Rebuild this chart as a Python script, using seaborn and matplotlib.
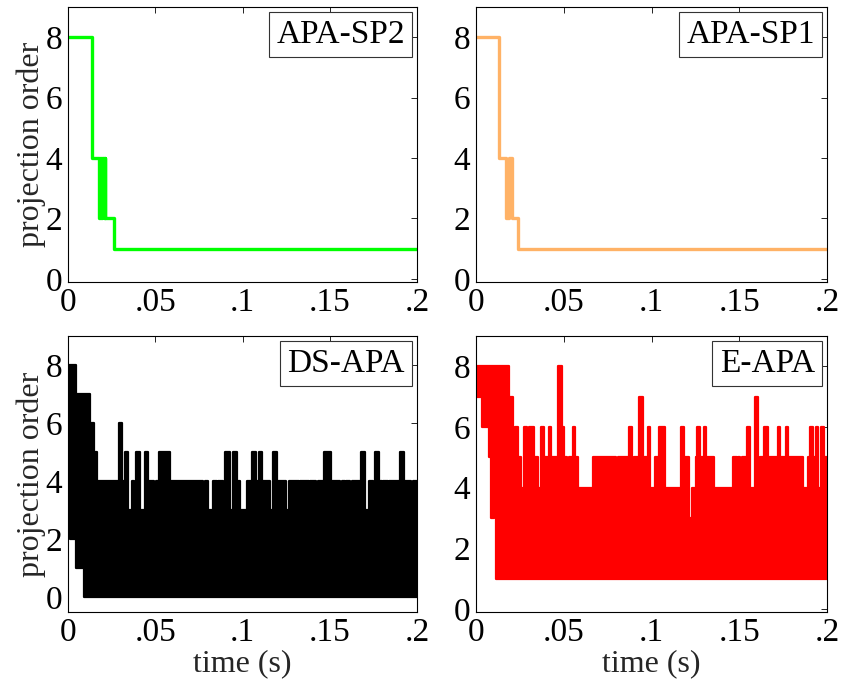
import numpy as np
import matplotlib
matplotlib.use("Agg")
import matplotlib.pyplot as plt
import seaborn as sns

# ---- data ----
# top panels: step series (time where value starts, value)
sp2_t = [0, 0.0136, 0.0176, 0.0182, 0.0190, 0.0197, 0.0204, 0.0210, 0.0213, 0.0265, 0.2]
sp2_v = [8, 4, 2, 4, 2, 4, 2, 4, 2, 1, 1]

sp1_t = [0, 0.0133, 0.0171, 0.0190, 0.0205, 0.0238, 0.2]
sp1_v = [8, 4, 2, 4, 2, 1, 1]

# bottom panels: the curves switch so fast that only their envelopes are visible
ds_up_t = [0, 0.0044, 0.0126, 0.0146, 0.0168, 0.0293, 0.0311, 0.0325, 0.0341, 0.0364,
           0.0379, 0.0389, 0.0412, 0.0440, 0.0460, 0.0494, 0.0502, 0.0523, 0.0584, 0.0775,
           0.0785, 0.0800, 0.0833, 0.0852, 0.0862, 0.0890, 0.0900, 0.0928, 0.0948, 0.0967,
           0.0986, 0.1028, 0.1057, 0.1080, 0.1095, 0.1114, 0.1120, 0.1156, 0.1172, 0.1195,
           0.1252, 0.1267, 0.1321, 0.1329, 0.1379, 0.1386, 0.1424, 0.1432, 0.1459, 0.1468,
           0.1507, 0.1558, 0.1570, 0.1589, 0.1595, 0.1616, 0.1627, 0.1679, 0.1704, 0.1723,
           0.1746, 0.1761, 0.1781, 0.1800, 0.1806, 0.1832, 0.1838, 0.1895, 0.1903, 0.1928,
           0.1966, 0.1980]
ds_up_v = [8, 7, 6, 5, 4, 6, 4, 5, 3, 4,
           3, 5, 3, 5, 4, 3, 4, 5, 4, 3,
           4, 3, 4, 3, 4, 3, 5, 3, 5, 4,
           3, 4, 5, 4, 5, 3, 4, 3, 5, 4,
           3, 4, 3, 4, 3, 4, 3, 4, 3, 5,
           4, 3, 4, 3, 4, 3, 4, 5, 3, 4,
           3, 5, 4, 3, 4, 3, 4, 3, 5, 4,
           3, 4]
ds_lo_t = [0, 0.0011, 0.0046, 0.0090]
ds_lo_v = [3, 2, 1, 0]

e_up_t = [0, 0.0190, 0.0213, 0.0224, 0.0239, 0.0256, 0.0275, 0.0289, 0.0304, 0.0332,
          0.0351, 0.0370, 0.0386, 0.0395, 0.0414, 0.0429, 0.0465, 0.0490, 0.0503, 0.0517,
          0.0532, 0.0551, 0.0566, 0.0579, 0.0665, 0.0798, 0.0807, 0.0864, 0.0874, 0.0889,
          0.0902, 0.0927, 0.0950, 0.0978, 0.0991, 0.1020, 0.1045, 0.1077, 0.1168, 0.1183,
          0.1216, 0.1229, 0.1254, 0.1259, 0.1278, 0.1297, 0.1313, 0.1354, 0.1463, 0.1487,
          0.1495, 0.1506, 0.1514, 0.1544, 0.1559, 0.1590, 0.1609, 0.1620, 0.1643, 0.1662,
          0.1719, 0.1734, 0.1766, 0.1780, 0.1862, 0.1890, 0.1905, 0.1918, 0.1937, 0.1947,
          0.1966, 0.1985]
e_up_v = [8, 7, 5, 6, 5, 4, 6, 5, 6, 5,
          4, 6, 4, 5, 6, 5, 8, 6, 5, 4,
          5, 6, 5, 4, 5, 4, 5, 4, 6, 4,
          5, 7, 5, 6, 4, 5, 6, 4, 6, 5,
          3, 4, 5, 6, 5, 6, 5, 4, 5, 4,
          5, 4, 5, 6, 4, 7, 3, 5, 6, 5,
          6, 5, 6, 5, 4, 5, 6, 5, 6, 4,
          6, 5]
e_lo_t = [0, 0.0032, 0.0074, 0.0085, 0.0104, 0.0114]
e_lo_v = [7, 6, 5, 3, 5, 1]

xticks = [0, 0.05, 0.1, 0.15, 0.2]
xtick_labels = ["0", ".05", ".1", ".15", ".2"]
yticks = [0, 2, 4, 6, 8]


def step_at(t_break, vals, t):
    idx = np.searchsorted(np.asarray(t_break), t, side="right") - 1
    return np.asarray(vals)[idx]


sns.set_theme(style="white")
plt.rcParams["font.family"] = ["Liberation Serif", "DejaVu Serif"]

fig = plt.figure(figsize=(8.41, 6.86), dpi=100)
ax_tl = fig.add_axes([0.0809, 0.589, 0.4149, 0.4008])
ax_tr = fig.add_axes([0.566, 0.589, 0.4174, 0.4008])
ax_bl = fig.add_axes([0.0809, 0.1079, 0.4149, 0.4023])
ax_br = fig.add_axes([0.566, 0.1079, 0.4174, 0.4023])

# top: plain step lines
sns.lineplot(x=sp2_t, y=sp2_v, ax=ax_tl, color="#00ff00", lw=2.4,
             drawstyle="steps-post", sort=False, estimator=None)
sns.lineplot(x=sp1_t, y=sp1_v, ax=ax_tr, color="#ffb266", lw=2.4,
             drawstyle="steps-post", sort=False, estimator=None)

# bottom: filled band between lower and upper envelope
for ax, ut, uv, lt, lv, col in [(ax_bl, ds_up_t, ds_up_v, ds_lo_t, ds_lo_v, "black"),
                                (ax_br, e_up_t, e_up_v, e_lo_t, e_lo_v, "#ff0000")]:
    grid = np.union1d(np.union1d(ut, lt), [0.2])
    hi = step_at(ut, uv, grid)
    lo = step_at(lt, lv, grid)
    ax.fill_between(grid, lo, hi, step="post", color=col, lw=1.6, edgecolor=col)

labels = ["APA-SP2", "APA-SP1", "DS-APA", "E-APA"]
ylims = [(-0.1, 9), (-0.1, 9), (-0.5, 9), (-0.1, 9)]
for ax, lab, yl in zip([ax_tl, ax_tr, ax_bl, ax_br], labels, ylims):
    ax.set_xlim(0, 0.2)
    ax.set_ylim(*yl)
    ax.set_xticks(xticks)
    ax.set_xticklabels(xtick_labels)
    ax.set_yticks(yticks)
    ax.tick_params(direction="in", top=True, right=True, length=4, width=0.6,
                   labelsize=24, colors="black", pad=4)
    for s in ax.spines.values():
        s.set_color("black")
        s.set_linewidth(0.8)
    ax.set_xlabel("")
    ax.set_ylabel("")
    ax.text(0.965, 0.955, lab, transform=ax.transAxes, ha="right", va="top",
            fontsize=24, color="black",
            bbox=dict(boxstyle="square,pad=0.22", fc="white", ec="#333333", lw=0.8))

ax_tl.set_ylabel("projection order", fontsize=23, labelpad=0)
ax_bl.set_ylabel("projection order", fontsize=23, labelpad=0)
ax_bl.set_xlabel("time (s)", fontsize=23, labelpad=1)
ax_br.set_xlabel("time (s)", fontsize=23, labelpad=1)

fig.savefig("out.png", dpi=100)
